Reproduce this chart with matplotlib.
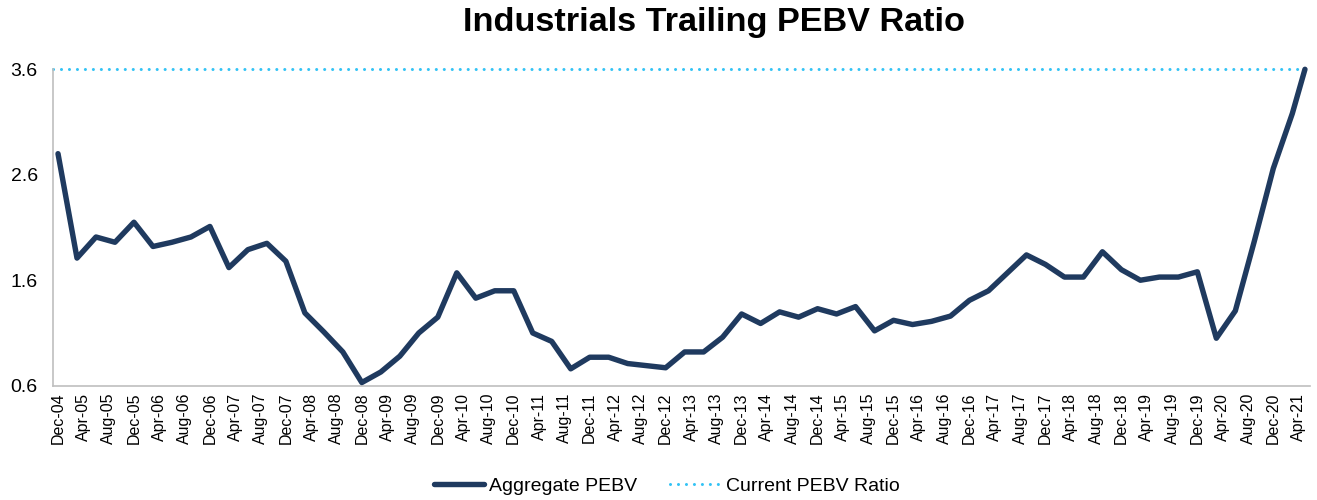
import pandas as pd
import matplotlib
matplotlib.use('Agg')
import matplotlib.pyplot as plt

# quarterly observations from Dec-04 to Mar-21, plus the latest (May-21) reading
months = pd.period_range('2004-12', '2021-05', freq='M')
dates = list(months[:196:3]) + [months[-1]]
pebv = [2.80, 1.81, 2.01, 1.96, 2.15, 1.92, 1.96, 2.01, 2.11, 1.72,
        1.89, 1.95, 1.78, 1.29, 1.11, 0.92, 0.63, 0.73, 0.88, 1.10,
        1.25, 1.67, 1.43, 1.50, 1.50, 1.10, 1.02, 0.76, 0.87, 0.87,
        0.81, 0.79, 0.77, 0.92, 0.92, 1.06, 1.28, 1.19, 1.30, 1.25,
        1.33, 1.28, 1.35, 1.12, 1.22, 1.18, 1.21, 1.26, 1.41, 1.50,
        1.67, 1.84, 1.75, 1.63, 1.63, 1.87, 1.70, 1.60, 1.63, 1.63,
        1.68, 1.05, 1.31, 1.97, 2.66, 3.18, 3.60]
current_pebv = 3.60
tick_dates = months[:197:4]
y_ticks = [0.6, 1.6, 2.6, 3.6]

start = months[0]
x = [(d - start).n for d in dates]
tick_x = [(d - start).n for d in tick_dates]
tick_labels = [d.strftime('%b-%y') for d in tick_dates]

plt.rcParams['font.family'] = ['Liberation Sans Narrow', 'Liberation Sans', 'DejaVu Sans']

fig = plt.figure(figsize=(13.17, 5), dpi=100)
ax = fig.add_axes([0.0402, 0.2286, 0.9545, 0.6328])

ax.plot(x, pebv, color='#1F3A5F', linewidth=3.9, solid_joinstyle='round',
        solid_capstyle='round', label='Aggregate PEBV', clip_on=False, zorder=3)
ax.axhline(current_pebv, color='#33C3F5', linewidth=2.2, linestyle=(0, (0.01, 2.6)),
           dash_capstyle='round', label='Current PEBV Ratio', clip_on=False, zorder=2)

ax.set_xlim(-0.8, 197.8)
ax.set_ylim(0.6, 3.6)
ax.set_xticks(tick_x)
ax.set_xticklabels(tick_labels, rotation=90, fontsize=11.5)
ax.set_yticks(y_ticks)
ax.set_yticklabels([f'{v:.1f}' for v in y_ticks], fontsize=14)
ax.tick_params(length=0, pad=5)
ax.tick_params(axis='y', pad=11)

for side in ['top', 'right']:
    ax.spines[side].set_visible(False)
for side in ['left', 'bottom']:
    ax.spines[side].set_color('#BFBFBF')
    ax.spines[side].set_linewidth(1.2)

fig.text(0.542, 0.955, 'Industrials Trailing PEBV Ratio', ha='center', va='center',
         fontsize=24.7, fontweight='bold', family='Liberation Sans')

fig.legend(loc='center', bbox_to_anchor=(0.506, 0.028), ncol=2, frameon=False,
           fontsize=14, handlelength=2.6, handletextpad=0.25, columnspacing=1.7)

fig.savefig('out.png', dpi=100)
